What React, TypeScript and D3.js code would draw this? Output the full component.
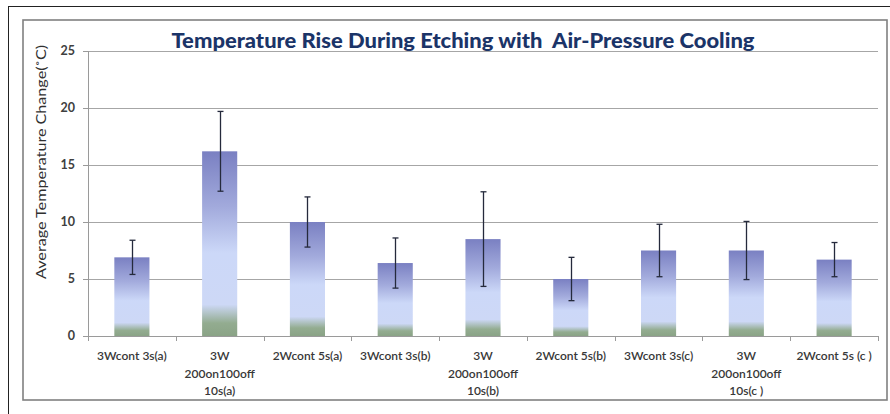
import React from "react";
import * as d3 from "d3";

// data
const categories = [
  "3Wcont 3s(a)",
  "3W\n200on100off\n10s(a)",
  "2Wcont 5s(a)",
  "3Wcont 3s(b)",
  "3W\n200on100off\n10s(b)",
  "2Wcont 5s(b)",
  "3Wcont 3s(c)",
  "3W\n200on100off\n10s(c )",
  "2Wcont 5s (c )",
];
const meanRise = [6.9, 16.2, 10.0, 6.4, 8.5, 5.0, 7.5, 7.5, 6.7];
const errRise = [1.5, 3.5, 2.2, 2.2, 4.15, 1.9, 2.3, 2.55, 1.5];
const yTicks = [0, 5, 10, 15, 20, 25];

const title = "Temperature Rise During Etching with  Air-Pressure Cooling";
const yTitle = "Average Temperature Change(˚C)";

export default function App() {
  const W = 890;
  const H = 414;
  const plot = { left: 88, right: 878, top: 51, bottom: 336 };

  const x = d3
    .scaleBand<string>()
    .domain(categories)
    .range([plot.left, plot.right])
    .paddingInner(0.6)
    .paddingOuter(0.3);
  const bands = d3.scaleBand<string>().domain(categories).range([plot.left, plot.right]);
  const y = d3.scaleLinear().domain([0, 25]).range([plot.bottom, plot.top]);

  const font = "Lato, 'Open Sans', sans-serif";

  return (
    <div style={{ position: "absolute", left: 0, top: 0 }}>
      <svg width={W} height={H} style={{ display: "block", background: "#fff" }}>
        <defs>
          <linearGradient id="barGrad" x1="0" y1="0" x2="0" y2="1">
            <stop offset="0" stopColor="#7a80c2" />
            <stop offset="0.3" stopColor="#a2aadc" />
            <stop offset="0.55" stopColor="#ccd8f8" />
            <stop offset="0.83" stopColor="#cdd8f6" />
            <stop offset="0.93" stopColor="#93ac90" />
            <stop offset="1" stopColor="#8aa386" />
          </linearGradient>
        </defs>

        {/* outer frame */}
        <rect x={8.5} y={6.5} width={900} height={420} fill="none" stroke="#222" strokeWidth={1} />
        {/* chart area frame */}
        <rect x={23} y={20} width={864} height={380} fill="#fff" stroke="#808080" strokeWidth={1.6} />

        {/* gridlines */}
        {yTicks.map((t) => (
          <line
            key={"g" + t}
            x1={plot.left}
            x2={plot.right}
            y1={Math.round(y(t)) + 0.5}
            y2={Math.round(y(t)) + 0.5}
            stroke={t === 0 ? "#9a9a9a" : "#a6a6a6"}
            strokeWidth={1}
          />
        ))}

        {/* y axis */}
        <line x1={plot.left + 0.5} x2={plot.left + 0.5} y1={plot.top} y2={plot.bottom} stroke="#9a9a9a" />
        {yTicks.map((t) => (
          <g key={"yt" + t}>
            <line
              x1={plot.left - 5}
              x2={plot.left}
              y1={Math.round(y(t)) + 0.5}
              y2={Math.round(y(t)) + 0.5}
              stroke="#9a9a9a"
            />
            <text
              x={plot.left - 13}
              y={y(t)}
              dy="0.35em"
              textAnchor="end"
              fontFamily={font}
              fontSize={12.5}
              fontWeight={700}
              fill="#404040"
            >
              {t}
            </text>
          </g>
        ))}

        {/* x axis ticks at band edges */}
        {categories.concat(["end"]).map((c, i) => {
          const xx = plot.left + i * bands.bandwidth();
          return (
            <line
              key={"xt" + i}
              x1={Math.round(xx) + 0.5}
              x2={Math.round(xx) + 0.5}
              y1={plot.bottom}
              y2={plot.bottom + 5}
              stroke="#9a9a9a"
            />
          );
        })}

        {/* bars */}
        {categories.map((c, i) => (
          <rect
            key={"b" + i}
            x={x(c)}
            y={y(meanRise[i])}
            width={x.bandwidth()}
            height={y(0) - y(meanRise[i])}
            fill="url(#barGrad)"
          />
        ))}

        {/* error bars */}
        {categories.map((c, i) => {
          const cx = Math.round((x(c) as number) + x.bandwidth() / 2) + 0.5;
          const hi = y(meanRise[i] + errRise[i]);
          const lo = y(meanRise[i] - errRise[i]);
          return (
            <g key={"e" + i} stroke="#252a3c" strokeWidth={1.3}>
              <line x1={cx} x2={cx} y1={hi} y2={lo} />
              <line x1={cx - 3} x2={cx + 3} y1={hi} y2={hi} />
              <line x1={cx - 3} x2={cx + 3} y1={lo} y2={lo} />
            </g>
          );
        })}

        {/* category labels */}
        {categories.map((c, i) => {
          const cx = (bands(c) as number) + bands.bandwidth() / 2;
          return (
            <text
              key={"xl" + i}
              x={cx}
              y={360}
              textAnchor="middle"
              fontFamily={font}
              fontSize={12}
              fontWeight={600}
              fill="#383838"
            >
              {c.split("\n").map((ln, j) => (
                <tspan key={j} x={cx} dy={j === 0 ? 0 : 17.5}>
                  {ln}
                </tspan>
              ))}
            </text>
          );
        })}

        {/* y axis title */}
        <text
          transform={`translate(46, 162) rotate(-90)`}
          textAnchor="middle"
          fontFamily={font}
          fontSize={13}
          fill="#303030"
          textLength={234}
          lengthAdjust="spacingAndGlyphs"
        >
          {yTitle}
        </text>

        {/* chart title */}
        <text
          x={463}
          y={48}
          textAnchor="middle"
          fontFamily={font}
          fontSize={20}
          fontWeight={900}
          fill="#1b3468"
          textLength={583}
          lengthAdjust="spacingAndGlyphs"
          style={{ whiteSpace: "pre" }}
        >
          {title}
        </text>
      </svg>
    </div>
  );
}
